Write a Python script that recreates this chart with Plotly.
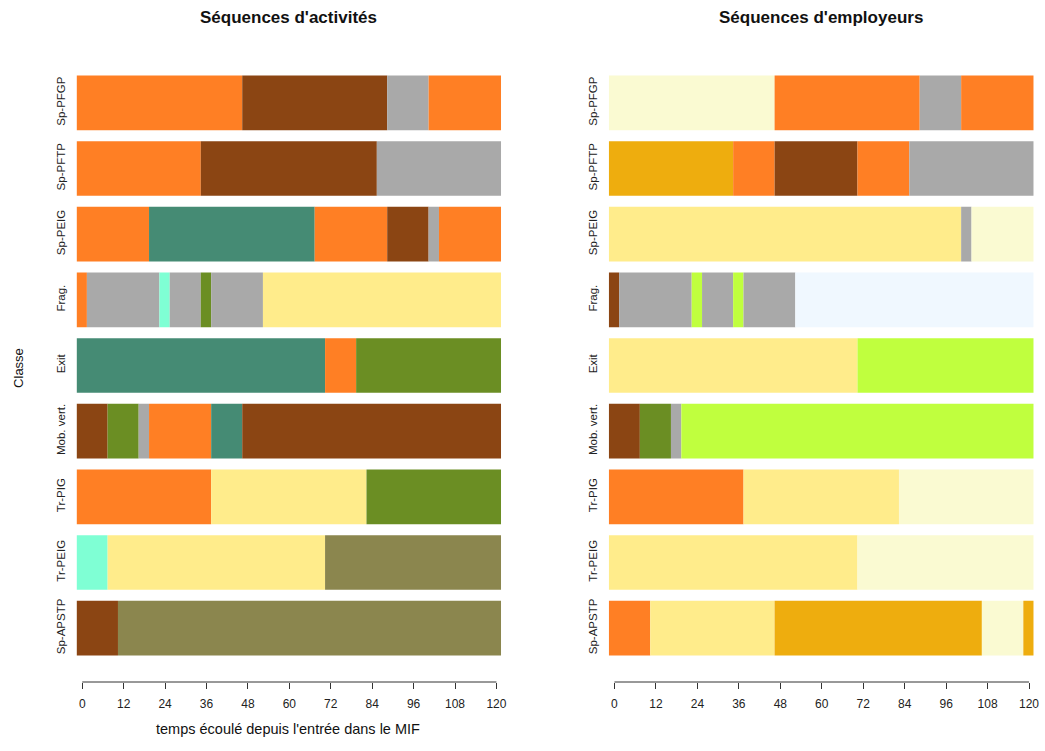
import plotly.graph_objects as go

# ---------------- data ----------------
classes = ["Sp-APSTP", "Tr-PEIG", "Tr-PIG", "Mob. vert.", "Exit", "Frag.",
           "Sp-PEIG", "Sp-PFTP", "Sp-PFGP"]          # bottom -> top

tick_labels = ["0", "12", "24", "36", "48", "60", "72", "84", "96", "108", "120"]

# state colours (TraMineR-like palette)
state_colors = {
    "orange": "#FF7F24", "brun": "#8B4513", "gris": "#A9A9A9",
    "sarcelle": "#458B74", "aigue": "#7FFFD4", "olive": "#6B8E23",
    "jaune": "#FFEC8B", "kaki": "#8B864E", "jaune_pale": "#FAFAD2",
    "or": "#EEAD0E", "vert_vif": "#C0FF3E", "bleu_pale": "#F0F8FF",
}

# Séquences d'activités : (states, durations in months) per class
act_states = {
    "Sp-PFGP": ["orange", "brun", "gris", "orange"],
    "Sp-PFTP": ["orange", "brun", "gris"],
    "Sp-PEIG": ["orange", "sarcelle", "orange", "brun", "gris", "orange"],
    "Frag.": ["orange", "gris", "aigue", "gris", "olive", "gris", "jaune"],
    "Exit": ["sarcelle", "orange", "olive"],
    "Mob. vert.": ["brun", "olive", "gris", "orange", "sarcelle", "brun"],
    "Tr-PIG": ["orange", "jaune", "olive"],
    "Tr-PEIG": ["aigue", "jaune", "kaki"],
    "Sp-APSTP": ["brun", "kaki"],
}
act_durations = {
    "Sp-PFGP": [48, 42, 12, 21],
    "Sp-PFTP": [36, 51, 36],
    "Sp-PEIG": [21, 48, 21, 12, 3, 18],
    "Frag.": [3, 21, 3, 9, 3, 15, 69],
    "Exit": [72, 9, 42],
    "Mob. vert.": [9, 9, 3, 18, 9, 75],
    "Tr-PIG": [39, 45, 39],
    "Tr-PEIG": [9, 63, 51],
    "Sp-APSTP": [12, 111],
}

# Séquences d'employeurs
emp_states = {
    "Sp-PFGP": ["jaune_pale", "orange", "gris", "orange"],
    "Sp-PFTP": ["or", "orange", "brun", "orange", "gris"],
    "Sp-PEIG": ["jaune", "gris", "jaune_pale"],
    "Frag.": ["brun", "gris", "vert_vif", "gris", "vert_vif", "gris", "bleu_pale"],
    "Exit": ["jaune", "vert_vif"],
    "Mob. vert.": ["brun", "olive", "gris", "vert_vif"],
    "Tr-PIG": ["orange", "jaune", "jaune_pale"],
    "Tr-PEIG": ["jaune", "jaune_pale"],
    "Sp-APSTP": ["orange", "jaune", "or", "jaune_pale", "or"],
}
emp_durations = {
    "Sp-PFGP": [48, 42, 12, 21],
    "Sp-PFTP": [36, 12, 24, 15, 36],
    "Sp-PEIG": [102, 3, 18],
    "Frag.": [3, 21, 3, 9, 3, 15, 69],
    "Exit": [72, 51],
    "Mob. vert.": [9, 9, 3, 102],
    "Tr-PIG": [39, 45, 39],
    "Tr-PEIG": [72, 51],
    "Sp-APSTP": [12, 36, 60, 12, 3],
}

# ---------------- layout helpers ----------------
W, H = 1040, 751
MT, MB = 70, 69
PH = H - MT - MB
N_COLS = 123
TICK0 = 1.65


def px_x(p):
    return min(p / W, 1.0)


def px_y(p):
    return (H - MB - p) / PH


FONT = "Liberation Sans, Arial, sans-serif"

fig = go.Figure()


def add_panel(states, durations, xa, ya):
    for cls in classes:
        start = 0
        for st, d in zip(states[cls], durations[cls]):
            fig.add_trace(go.Bar(
                orientation="h", y=[cls], x=[d], base=[start], width=0.833,
                marker=dict(color=state_colors[st], line=dict(width=0)),
                xaxis=xa, yaxis=ya, showlegend=False,
                hovertemplate=f"{cls}<br>{st}<extra></extra>",
            ))
            start += d


add_panel(act_states, act_durations, "x", "y")
add_panel(emp_states, emp_durations, "x2", "y2")

tickvals = [TICK0 + 12 * i for i in range(len(tick_labels))]
xcommon = dict(range=[0, N_COLS], tickmode="array", tickvals=tickvals,
               ticktext=tick_labels, ticks="outside", ticklen=6,
               tickcolor="#333", tickwidth=1, showline=False, showgrid=False,
               zeroline=False, tickfont=dict(family=FONT, size=12, color="#222"),
               ticklabelstandoff=5)
ycommon = dict(type="category", categoryorder="array", categoryarray=classes,
               range=[-0.82, 8.5], showgrid=False, zeroline=False,
               showline=False, ticks="", tickangle=-90,
               tickfont=dict(family=FONT, size=11.5, color="#222"),
               ticklabelstandoff=8)

fig.update_layout(
    width=W, height=H, plot_bgcolor="white", paper_bgcolor="white",
    margin=dict(l=0, r=0, t=MT, b=MB), barmode="overlay",
    xaxis=dict(domain=[px_x(77), px_x(504)], anchor="y", **xcommon),
    yaxis=dict(domain=[0, 1], anchor="x", **ycommon),
    xaxis2=dict(domain=[px_x(612.3), px_x(1039.7)], anchor="y2", **xcommon),
    yaxis2=dict(domain=[0, 1], anchor="x2", **ycommon),
    font=dict(family=FONT, color="#222"),
)

# R-style axis lines spanning only first to last tick
for xr in ["x", "x2"]:
    fig.add_shape(type="line", xref=xr, yref="paper", x0=tickvals[0],
                  x1=tickvals[-1], y0=0, y1=0, line=dict(color="#333", width=1))

annots = [
    dict(text="<b>Séquences d'activités</b>", x=px_x(290), y=px_y(17), size=17, angle=0),
    dict(text="<b>Séquences d'employeurs</b>", x=px_x(826), y=px_y(17), size=17, angle=0),
    dict(text="temps écoulé depuis l'entrée dans le MIF", x=px_x(290), y=px_y(729), size=14.5, angle=0),
    dict(text="Classe", x=px_x(18), y=px_y(368), size=13, angle=-90),
]
for a in annots:
    fig.add_annotation(text=a["text"], x=a["x"], y=a["y"], xref="paper", yref="paper",
                       showarrow=False, xanchor="center", yanchor="middle",
                       textangle=a["angle"],
                       font=dict(family=FONT, size=a["size"], color="#111"))

fig.write_html("out.html", config={"displayModeBar": False},
               post_script="document.body.style.margin='0';document.body.style.overflow='hidden';")
